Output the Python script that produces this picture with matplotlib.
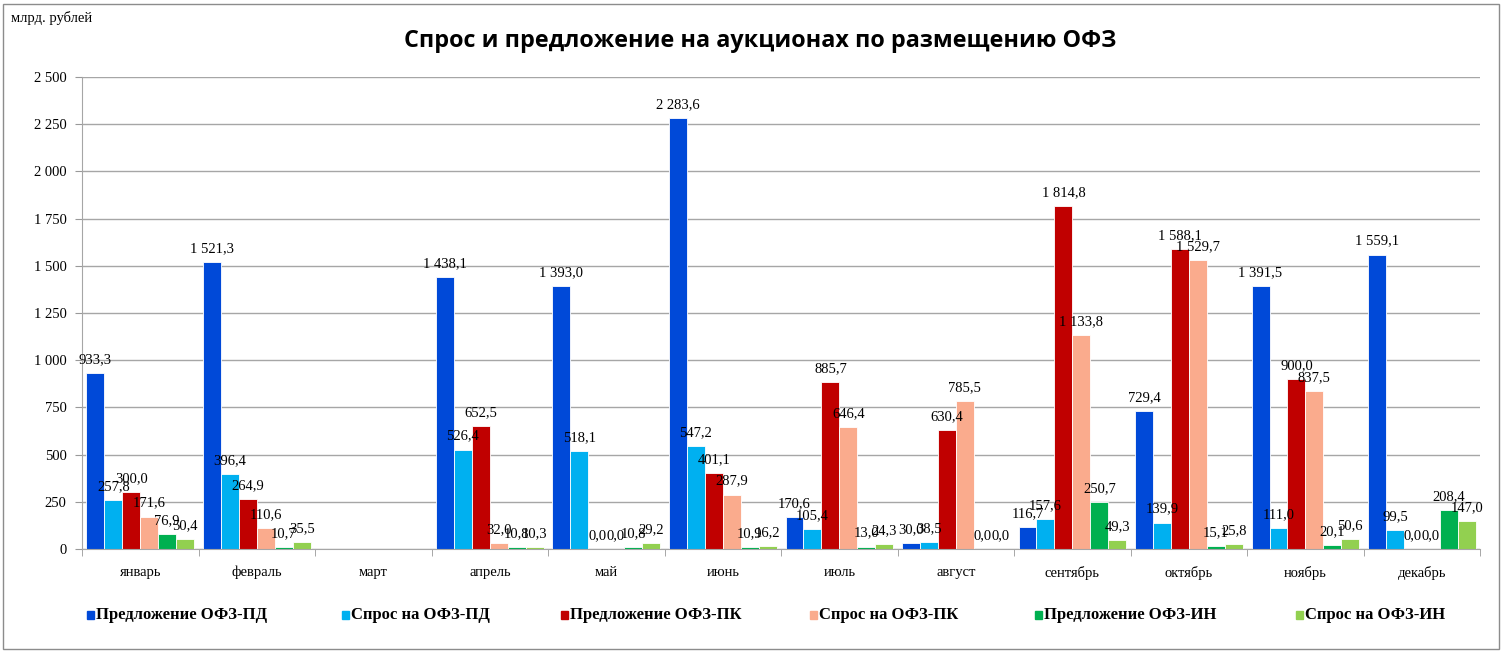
"""
Спрос и предложение на аукционах по размещению ОФЗ, по месяцам.
"""

import numpy as np
import matplotlib.pyplot as plt
from matplotlib.patches import Rectangle

months = ["январь", "февраль", "март", "апрель", "май", "июнь",
          "июль", "август", "сентябрь", "октябрь", "ноябрь", "декабрь"]

nan = np.nan
# март - аукционов не было
offer_pd = [933.3, 1521.3, nan, 1438.1, 1393.0, 2283.6, 170.6, 30.0, 116.7, 729.4, 1391.5, 1559.1]
demand_pd = [257.8, 396.4, nan, 526.4, 518.1, 547.2, 105.4, 38.5, 157.6, 139.9, 111.0, 99.5]
offer_pk = [300.0, 264.9, nan, 652.5, 0.0, 401.1, 885.7, 630.4, 1814.8, 1588.1, 900.0, 0.0]
demand_pk = [171.6, 110.6, nan, 32.0, 0.0, 287.9, 646.4, 785.5, 1133.8, 1529.7, 837.5, 0.0]
offer_in = [76.9, 10.7, nan, 10.8, 10.8, 10.9, 13.0, 0.0, 250.7, 15.1, 20.1, 208.4]
demand_in = [50.4, 35.5, nan, 10.3, 29.2, 16.2, 24.3, 0.0, 49.3, 25.8, 50.6, 147.0]

series_names = ["Предложение ОФЗ-ПД", "Спрос на ОФЗ-ПД", "Предложение ОФЗ-ПК",
                "Спрос на ОФЗ-ПК", "Предложение ОФЗ-ИН", "Спрос на ОФЗ-ИН"]
series = [offer_pd, demand_pd, offer_pk, demand_pk, offer_in, demand_in]
colors = ["#0049D8", "#00B0F0", "#C00000", "#FAAB8D", "#00B050", "#92D050"]

y_ticks = np.arange(0, 2501, 250)


def fmt(v):
    return f"{v:,.1f}".replace(",", " ").replace(".", ",")


serif = ["Liberation Serif", "DejaVu Serif"]

fig = plt.figure(figsize=(15.05, 6.52), dpi=100)
ax = fig.add_axes([0.0545, 0.158, 0.929, 0.724])

x = np.arange(len(months))
width = 0.154
for i, (vals, name, col) in enumerate(zip(series, series_names, colors)):
    pos = x + (i - 2.5) * width
    vals = np.array(vals)
    ax.bar(pos, vals, width, color=col, edgecolor="white", linewidth=0.6, label=name)
    for p, v in zip(pos, vals):
        if np.isnan(v):
            continue
        ax.annotate(fmt(v), (p, v), xytext=(0, 5), textcoords="offset points",
                    ha="center", va="bottom", fontsize=10.5, family=serif)

ax.set_xlim(-0.5, 11.5)
ax.set_ylim(0, 2500)
ax.set_yticks(y_ticks)
ax.set_yticklabels([fmt(t)[:-2] for t in y_ticks], family=serif, fontsize=10.5)
ax.set_xticks(x)
ax.set_xticklabels(months, family=serif, fontsize=10.5)
ax.set_xticks(np.arange(-0.5, 12), minor=True)
ax.tick_params(axis="x", which="major", length=0, pad=12)
ax.tick_params(axis="x", which="minor", length=5, color="#999999")
ax.tick_params(axis="y", length=5, color="#999999", pad=6)

ax.grid(axis="y", color="#A6A6A6", linewidth=1)
ax.set_axisbelow(True)
for s in ["top", "right"]:
    ax.spines[s].set_visible(False)
for s in ["left", "bottom"]:
    ax.spines[s].set_color("#A6A6A6")

fig.text(0.505, 0.937, "Спрос и предложение на аукционах по размещению ОФЗ",
         ha="center", va="center", fontsize=16.8, fontweight="bold", family="Open Sans")
fig.text(0.007, 0.972, "млрд. рублей", ha="left", va="center", fontsize=10.5, family=serif)

# legend, placed by hand along the bottom
legend_x = [87, 342, 561, 810, 1035, 1296]
for lx, name, col in zip(legend_x, series_names, colors):
    fig.patches.append(Rectangle((lx / 1505, 1 - 619 / 652), 7 / 1505, 8 / 652,
                                 transform=fig.transFigure, color=col))
    fig.text((lx + 9) / 1505, 1 - 615 / 652, name, ha="left", va="center",
             fontsize=12, fontweight="bold", family=serif)

# chart frame
fig.patches.append(Rectangle((3 / 1505, 3 / 652), 1496 / 1505, 645 / 652,
                             transform=fig.transFigure, fill=False,
                             edgecolor="#8C8C8C", linewidth=1))

plt.savefig("out.png", dpi=100)
